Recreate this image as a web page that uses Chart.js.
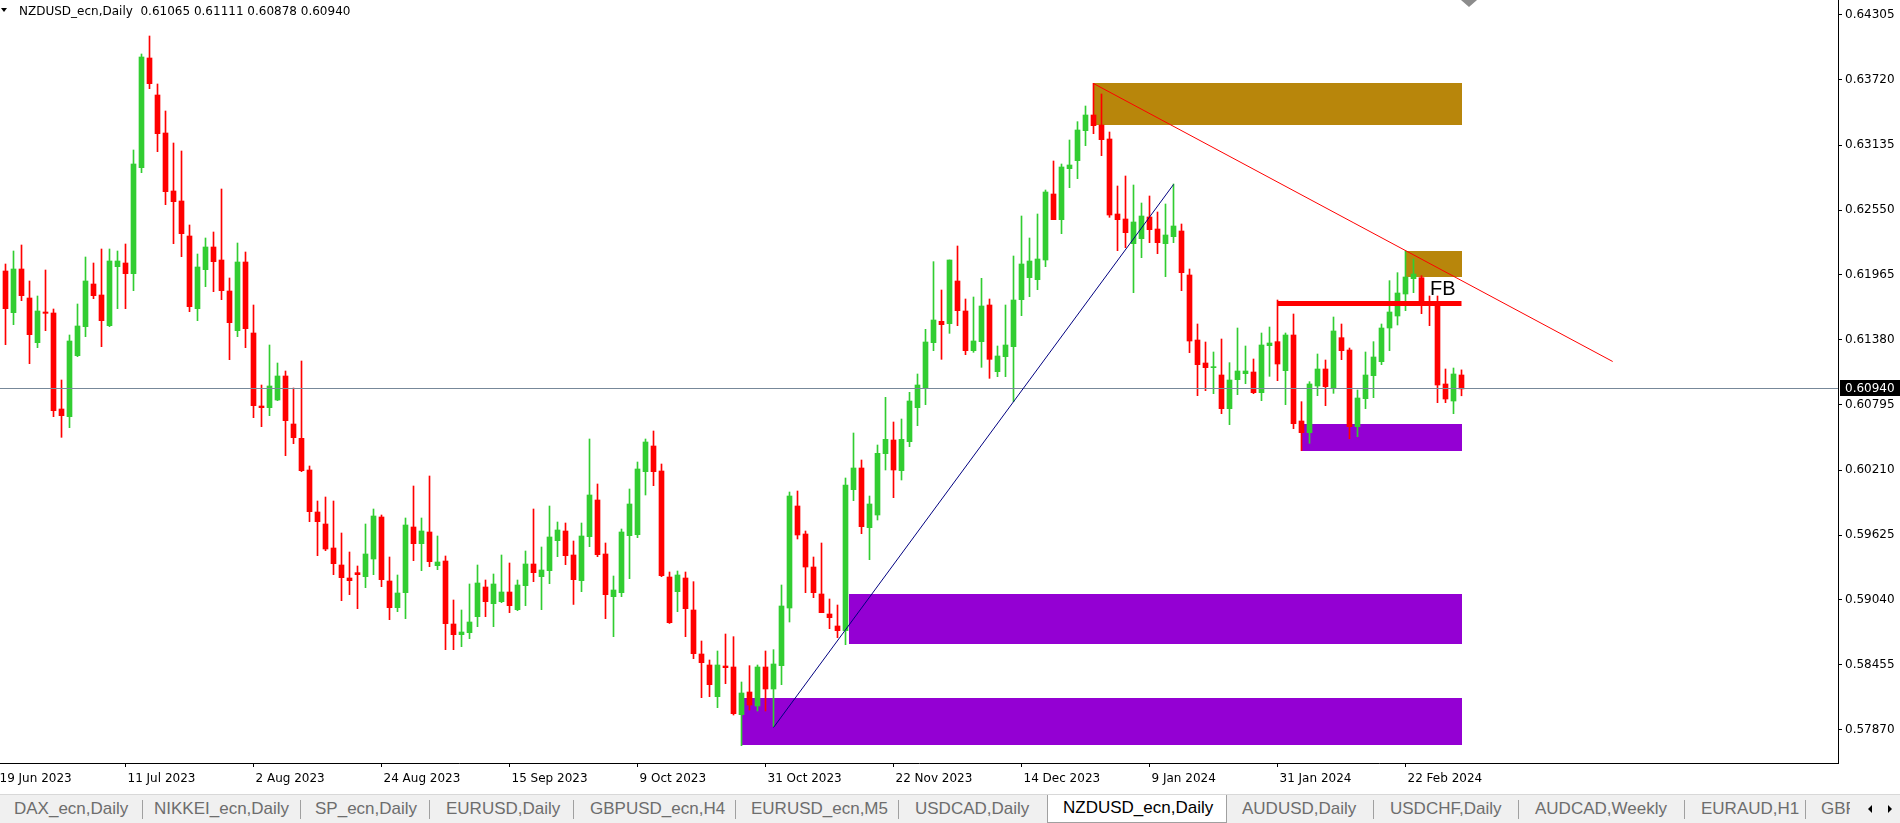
<!DOCTYPE html>
<html>
<head>
<meta charset="utf-8">
<script src="https://cdn.jsdelivr.net/npm/chart.js@4.4.1/dist/chart.umd.min.js"></script>
<style>
html,body{margin:0;padding:0;background:#fff;width:1900px;height:823px;overflow:hidden;}
#wrap{position:relative;width:1900px;height:823px;}
#c{position:absolute;left:0;top:0;}
#hdr{position:absolute;left:19px;top:4px;font:12px "DejaVu Sans";line-height:14px;color:#000;white-space:pre;}
#tri{position:absolute;left:1px;top:8px;width:0;height:0;border-left:3px solid transparent;border-right:3px solid transparent;border-top:4px solid #000;}
#tabs{position:absolute;left:0;top:794px;width:1900px;height:29px;background:#f0f0f0;border-top:1px solid #d8d8d8;box-sizing:border-box;overflow:hidden;}
.tab{position:absolute;top:0;height:28px;padding-top:4px;box-sizing:border-box;line-height:28px;font:17px "Liberation Sans";color:#6d6d6d;white-space:nowrap;}
.sep{position:absolute;top:5px;width:1px;height:19px;background:#a0a0a0;}
.tab.act{background:#fff;color:#000;border:1px solid #a0a0a0;border-top:none;top:-1px;height:29px;}
.arr{position:absolute;top:10px;width:0;height:0;border-top:4px solid transparent;border-bottom:4px solid transparent;}
</style>
</head>
<body>
<div id="wrap">
<canvas id="c" width="1900" height="794"></canvas>
<div id="tri"></div>
<div id="hdr">NZDUSD_ecn,Daily  0.61065 0.61111 0.60878 0.60940</div>
<div id="tabs"></div>
</div>
<script>
// ---------------- DATA ----------------
const symbolTitle = 'NZDUSD_ecn,Daily';
const firstBarIndex = 1;           // bar 0 = 19 Jun 2023 (left of the visible area)
const barsPerLabel = 16;
const dateLabels = ['19 Jun 2023','11 Jul 2023','2 Aug 2023','24 Aug 2023','15 Sep 2023','9 Oct 2023','31 Oct 2023','22 Nov 2023','14 Dec 2023','9 Jan 2024','31 Jan 2024','22 Feb 2024'];
const priceTicks = [0.64305,0.63720,0.63135,0.62550,0.61965,0.61380,0.60795,0.60210,0.59625,0.59040,0.58455,0.57870];
const lastPrice = 0.60940;

const opens = [
0.62001,0.61626,0.62019,0.61758,0.61356,0.61632,0.61623,0.60759,0.60690,0.61239,
0.61500,0.61884,0.61785,0.61509,0.62040,0.62073,0.61977,0.62931,0.63918,0.63585,
0.63243,0.62721,0.62631,0.62316,0.61662,0.62013,0.62217,0.62100,0.61821,0.61464,
0.62082,0.61443,0.60786,0.60771,0.60840,0.61056,0.60624,0.60495,0.60210,0.59832,
0.59724,0.59508,0.59355,0.59238,0.59286,0.59250,0.59409,0.59787,0.59211,0.58971,
0.59106,0.59697,0.59547,0.59652,0.59349,0.59391,0.58824,0.58728,0.58746,0.58890,
0.59157,0.59007,0.59025,0.59112,0.58953,0.59169,0.59364,0.59250,0.59304,0.59574,
0.59661,0.59445,0.59214,0.59610,0.59940,0.59454,0.59070,0.59106,0.59619,0.59628,
0.60195,0.60426,0.60201,0.59247,0.59115,0.59238,0.58950,0.58554,0.58455,0.58170,
0.58446,0.58437,0.58008,0.58212,0.58086,0.58437,0.58239,0.58449,0.58968,0.59886,
0.59634,0.59337,0.59094,0.58914,0.58806,0.58764,0.60033,0.60228,0.59691,0.59805,
0.60357,0.60480,0.60204,0.60465,0.60771,0.60945,0.61356,0.61548,0.61527,0.61911,
0.61641,0.61284,0.61365,0.61695,0.61095,0.61230,0.61320,0.61743,0.61941,0.61923,
0.62100,0.62694,0.62463,0.62922,0.62994,0.63264,0.63405,0.63315,0.63189,0.62514,
0.62469,0.62247,0.62292,0.62487,0.62379,0.62247,0.62310,0.62361,0.61965,0.61380,
0.61173,0.61131,0.61065,0.60762,0.61023,0.61077,0.61092,0.60906,0.61329,0.61365,
0.61104,0.61425,0.60651,0.60546,0.60966,0.61119,0.60948,0.61401,0.61290,0.60600,
0.60852,0.61059,0.61185,0.61488,0.61596,0.61794,0.61932,0.61941,0.61722,0.61713,
0.60984,0.60831,0.61065];
const highs = [
0.62064,0.62181,0.62235,0.61911,0.61776,0.62010,0.61659,0.61020,0.61425,0.61704,
0.62127,0.62073,0.62199,0.62199,0.62181,0.62244,0.63090,0.63954,0.64116,0.63684,
0.63441,0.63153,0.63081,0.62415,0.62154,0.62298,0.62352,0.62739,0.61938,0.62253,
0.62172,0.61695,0.60975,0.61335,0.61173,0.61101,0.60948,0.61191,0.60246,0.59931,
0.59967,0.59931,0.59643,0.59472,0.59346,0.59724,0.59859,0.59805,0.59427,0.59265,
0.59778,0.60066,0.59778,0.60156,0.59616,0.59436,0.59040,0.58950,0.59184,0.59355,
0.59220,0.59274,0.59445,0.59373,0.59220,0.59481,0.59859,0.59517,0.59886,0.59742,
0.59733,0.59571,0.59733,0.60489,0.60084,0.59553,0.59256,0.59679,0.60039,0.60282,
0.60489,0.60561,0.60264,0.59292,0.59301,0.59292,0.59205,0.58671,0.58500,0.58581,
0.58734,0.58710,0.58302,0.58449,0.58455,0.58581,0.58593,0.59175,0.60012,0.60021,
0.59661,0.59427,0.59553,0.59049,0.58995,0.60138,0.60543,0.60300,0.59976,0.60435,
0.60864,0.60642,0.60669,0.60909,0.61074,0.61476,0.62085,0.61830,0.62100,0.62226,
0.61749,0.61767,0.61935,0.61749,0.61326,0.61695,0.62136,0.62496,0.62298,0.62514,
0.62730,0.62991,0.62964,0.63180,0.63345,0.63486,0.63690,0.63594,0.63252,0.62766,
0.62856,0.62775,0.62613,0.62676,0.62532,0.62604,0.62784,0.62424,0.62019,0.61524,
0.61362,0.61272,0.61389,0.61176,0.61488,0.61326,0.61209,0.61443,0.61497,0.61740,
0.61443,0.61614,0.60825,0.61005,0.61254,0.61200,0.61587,0.61524,0.61308,0.60930,
0.61272,0.61365,0.61524,0.61914,0.61986,0.62181,0.62109,0.61959,0.61776,0.61776,
0.61119,0.61128,0.61111];
const lows = [
0.61338,0.61518,0.61734,0.61167,0.61311,0.61464,0.60690,0.60504,0.60591,0.61230,
0.61410,0.61752,0.61320,0.61500,0.61662,0.61662,0.61824,0.62886,0.63642,0.63075,
0.62598,0.62247,0.62130,0.61635,0.61554,0.61860,0.61815,0.61743,0.61203,0.61410,
0.61311,0.60681,0.60600,0.60699,0.60834,0.60339,0.60447,0.60195,0.59745,0.59439,
0.59484,0.59268,0.59034,0.59088,0.58962,0.59151,0.59268,0.59160,0.58863,0.58935,
0.58872,0.59394,0.59304,0.59340,0.59313,0.58593,0.58593,0.58620,0.58692,0.58800,
0.58890,0.58800,0.59016,0.58926,0.58944,0.58989,0.59205,0.58953,0.59187,0.59430,
0.59358,0.59000,0.59115,0.59520,0.59430,0.58872,0.58710,0.59070,0.59232,0.59601,
0.59985,0.60069,0.59250,0.58829,0.58935,0.58710,0.58512,0.58161,0.58170,0.58071,
0.58287,0.58005,0.57729,0.58050,0.58041,0.58041,0.57900,0.58278,0.58842,0.59589,
0.59106,0.59061,0.58926,0.58782,0.58701,0.58638,0.59934,0.59637,0.59403,0.59760,
0.60210,0.59961,0.60120,0.60420,0.60609,0.60798,0.61284,0.61206,0.61440,0.61509,
0.61248,0.61269,0.61134,0.61035,0.61050,0.61050,0.60825,0.61599,0.61770,0.61833,
0.62040,0.62463,0.62337,0.62751,0.62832,0.63129,0.63237,0.63039,0.62484,0.62184,
0.62211,0.61806,0.62121,0.62256,0.62157,0.61950,0.62256,0.61824,0.61266,0.60879,
0.60924,0.60897,0.60717,0.60618,0.60888,0.60987,0.60897,0.60834,0.61053,0.61014,
0.60798,0.60582,0.60384,0.60450,0.60879,0.60789,0.60900,0.61203,0.60492,0.60510,
0.60762,0.60861,0.61158,0.61284,0.61515,0.61644,0.61806,0.61617,0.61509,0.60816,
0.60816,0.60717,0.60878];
const closes = [
0.61662,0.62019,0.61779,0.61428,0.61641,0.61620,0.60744,0.60699,0.61371,0.61506,
0.61911,0.61779,0.61554,0.62091,0.62091,0.61977,0.62964,0.63927,0.63687,0.63237,
0.62715,0.62625,0.62337,0.61680,0.62037,0.62217,0.62085,0.61824,0.61536,0.62082,
0.61482,0.60789,0.60771,0.60966,0.61056,0.60654,0.60501,0.60204,0.59835,0.59745,
0.59499,0.59367,0.59241,0.59214,0.59268,0.59454,0.59796,0.59223,0.58971,0.59103,
0.59715,0.59547,0.59661,0.59385,0.59382,0.58827,0.58728,0.58752,0.58842,0.59193,
0.59025,0.59184,0.59112,0.58989,0.59175,0.59364,0.59286,0.59310,0.59607,0.59670,
0.59439,0.59223,0.59616,0.59985,0.59448,0.59088,0.59130,0.59652,0.59904,0.60219,
0.60462,0.60195,0.59259,0.58836,0.59265,0.58962,0.58557,0.58476,0.58278,0.58455,
0.58431,0.58017,0.58203,0.58095,0.58437,0.58239,0.58464,0.58986,0.59976,0.59625,
0.59337,0.59106,0.58926,0.58881,0.58764,0.60075,0.60228,0.59700,0.59904,0.60360,
0.60486,0.60210,0.60486,0.60831,0.60975,0.61362,0.61560,0.61518,0.62100,0.61644,
0.61284,0.61371,0.61686,0.61206,0.61236,0.61335,0.61740,0.62064,0.62091,0.62109,
0.62712,0.62463,0.62937,0.62955,0.63270,0.63405,0.63309,0.63183,0.62505,0.62463,
0.62346,0.62442,0.62496,0.62373,0.62256,0.62325,0.62406,0.61986,0.61371,0.61158,
0.61131,0.61140,0.60762,0.61020,0.61101,0.61101,0.60906,0.61335,0.61353,0.61164,
0.61425,0.60627,0.60546,0.60984,0.61119,0.60960,0.61461,0.61284,0.60600,0.60858,
0.61065,0.61227,0.61488,0.61632,0.61803,0.61947,0.61974,0.61725,0.61695,0.60975,
0.60849,0.61074,0.60940];

// drawn objects, in (bar index, price)
const zones = [
  {x0:137, x1:183, top:0.63693, bottom:0.63315, color:'#B8860B'},
  {x0:176, x1:183, top:0.62181, bottom:0.61947, color:'#B8860B'},
  {x0:163, x1:183, top:0.60624, bottom:0.60381, color:'#9400D3'},
  {x0:106.4, x1:183, top:0.59094, bottom:0.58644, color:'#9400D3'},
  {x0:93, x1:183, top:0.58158, bottom:0.57735, color:'#9400D3'}
];
const trendLines = [
  {x0:137, y0:0.63693, x1:201.9, y1:0.61191, color:'#FF0000', width:1},
  {x0:97, y0:0.57897, x1:147, y1:0.62784, color:'#000080', width:1},
  {x0:160, y0:0.61710, x1:183, y1:0.61710, color:'#FF0000', width:5}
];
const textLabels = [{text:'FB', x:179.06, y:0.61785}];
const tabNames = ['DAX_ecn,Daily','NIKKEI_ecn,Daily','SP_ecn,Daily','EURUSD,Daily','GBPUSD_ecn,H4','EURUSD_ecn,M5','USDCAD,Daily','NZDUSD_ecn,Daily','AUDUSD,Daily','USDCHF,Daily','AUDCAD,Weekly','EURAUD,H1','GBPUSD,Daily'];
const activeTab = 7;

// ---------------- TABS ----------------
(function(){
  const tabLeft = [14,154,315,446,590,751,915,1047,1242,1390,1535,1701,1821];
  const sepX   = [142,300,429,573,735,898,null,null,1373,1518,1684,1805];
  const bar = document.getElementById('tabs');
  tabNames.forEach((n,i)=>{
    const d = document.createElement('div');
    d.className = 'tab' + (i===activeTab?' act':'');
    d.textContent = n;
    if (i===activeTab){ d.style.left = tabLeft[i]+'px'; d.style.width='180px'; d.style.paddingLeft='15px'; }
    else d.style.left = tabLeft[i]+'px';
    bar.appendChild(d);
  });
  sepX.forEach(x=>{ if(x===null) return; const s=document.createElement('div'); s.className='sep'; s.style.left=x+'px'; bar.appendChild(s); });
  const cover = document.createElement('div');
  cover.style.cssText='position:absolute;left:1850px;top:0;width:50px;height:29px;background:#f0f0f0;';
  bar.appendChild(cover);
  const a1=document.createElement('div'); a1.className='arr'; a1.style.left='1868px'; a1.style.borderRight='4px solid #000'; bar.appendChild(a1);
  const a2=document.createElement('div'); a2.className='arr'; a2.style.left='1888px'; a2.style.borderLeft='4px solid #000'; bar.appendChild(a2);
})();

// ---------------- CHART ----------------
const UP = '#32CD32', DOWN = '#FF0000';
const bodyData = [], wickData = [], colors = [];
for (let i = 0; i < opens.length; i++) {
  const k = firstBarIndex + i;
  bodyData.push({x:k, y:[opens[i], closes[i]]});
  wickData.push({x:k, y:[lows[i], highs[i]]});
  colors.push(closes[i] >= opens[i] ? UP : DOWN);
}

const PLOT_RIGHT = 1838, PLOT_BOTTOM = 763, BAR_PX = 8;
const xMin = 2.5 / BAR_PX;
const xMax = xMin + PLOT_RIGHT / BAR_PX;
const yMax = 0.64440, yMin = 0.57573;

const objects = {
  id:'objects',
  beforeDatasetsDraw(chart){
    const {ctx, chartArea:a, scales:{x, y}} = chart;
    ctx.save();
    ctx.beginPath(); ctx.rect(a.left, a.top, a.right-a.left, a.bottom-a.top); ctx.clip();
    zones.forEach(z=>{
      const x0=Math.round(x.getPixelForValue(z.x0)), x1=Math.round(x.getPixelForValue(z.x1));
      const y0=Math.round(y.getPixelForValue(z.top)), y1=Math.round(y.getPixelForValue(z.bottom));
      ctx.fillStyle=z.color; ctx.fillRect(x0,y0,x1-x0,y1-y0);
    });
    ctx.restore();
  },
  afterDatasetsDraw(chart){
    const {ctx, chartArea:a, scales:{x, y}} = chart;
    ctx.save();
    ctx.beginPath(); ctx.rect(a.left, a.top, a.right-a.left, a.bottom-a.top); ctx.clip();
    const py = Math.floor(y.getPixelForValue(lastPrice));
    ctx.fillStyle='#778899'; ctx.fillRect(a.left, py, a.right-a.left, 1);
    trendLines.forEach(l=>{
      ctx.strokeStyle=l.color; ctx.lineWidth=l.width; ctx.lineCap='butt';
      ctx.beginPath();
      const off = l.width%2 ? 0.5 : 0;
      ctx.moveTo(x.getPixelForValue(l.x0), Math.round(y.getPixelForValue(l.y0))+off);
      ctx.lineTo(x.getPixelForValue(l.x1), Math.round(y.getPixelForValue(l.y1))+off);
      ctx.stroke();
    });
    ctx.fillStyle='#000'; ctx.font='20px "Liberation Sans"'; ctx.textBaseline='alphabetic'; ctx.textAlign='left';
    textLabels.forEach(t=>ctx.fillText(t.text, x.getPixelForValue(t.x), y.getPixelForValue(t.y)));
    ctx.restore();
  },
  afterDraw(chart){
    const {ctx, chartArea:a, scales:{y}} = chart;
    const py = Math.floor(y.getPixelForValue(lastPrice));
    ctx.save();
    ctx.fillStyle='#000'; ctx.fillRect(a.right+2, py-8, 62, 16);
    ctx.fillStyle='#fff'; ctx.font='12px "DejaVu Sans"'; ctx.textBaseline='middle'; ctx.textAlign='left';
    ctx.fillText(lastPrice.toFixed(5), a.right+7, py+0.5);
    ctx.fillStyle='#8c8c8c';
    ctx.beginPath(); ctx.moveTo(1461,0); ctx.lineTo(1477,0); ctx.lineTo(1469,7); ctx.closePath(); ctx.fill();
    ctx.restore();
  }
};

new Chart(document.getElementById('c'), {
  type:'bar',
  data:{datasets:[
    {label:'body', data:bodyData, backgroundColor:colors, barThickness:5, minBarLength:1, grouped:false, order:0, borderWidth:0},
    {label:'wick', data:wickData, backgroundColor:colors, barThickness:1, grouped:false, order:1, borderWidth:0}
  ]},
  options:{
    responsive:false, animation:false, devicePixelRatio:1,
    layout:{padding:0},
    plugins:{legend:{display:false}, tooltip:{enabled:false}, title:{display:false}},
    scales:{
      x:{type:'linear', position:'bottom', min:xMin, max:xMax, offset:false,
         afterFit:s=>{ s.height = 794 - PLOT_BOTTOM; s.paddingLeft = 0; s.paddingRight = 0; },
         afterBuildTicks:s=>{ s.ticks = dateLabels.map((t,i)=>({value:i*barsPerLabel})); },
         grid:{display:true, drawOnChartArea:false, drawTicks:true, tickLength:4, color:'#000', offset:false},
         border:{display:true, color:'#000', width:1},
         ticks:{autoSkip:false, maxRotation:0, minRotation:0, align:'start', labelOffset:2, padding:5,
                color:'#000', font:{family:'DejaVu Sans', size:12},
                callback:(v)=>dateLabels[Math.round(v/barsPerLabel)]}
      },
      y:{position:'right', min:yMin, max:yMax,
         afterFit:s=>{ s.width = 1900 - PLOT_RIGHT; s.paddingTop = 0; s.paddingBottom = 0; },
         afterBuildTicks:s=>{ s.ticks = priceTicks.map(v=>({value:v})); },
         grid:{display:true, drawOnChartArea:false, drawTicks:true, tickLength:4, color:'#000'},
         border:{display:true, color:'#000', width:1},
         ticks:{autoSkip:false, padding:3, color:'#000', font:{family:'DejaVu Sans', size:12},
                callback:(v)=>v.toFixed(5)}
      }
    }
  },
  plugins:[objects]
});
</script>
</body>
</html>
